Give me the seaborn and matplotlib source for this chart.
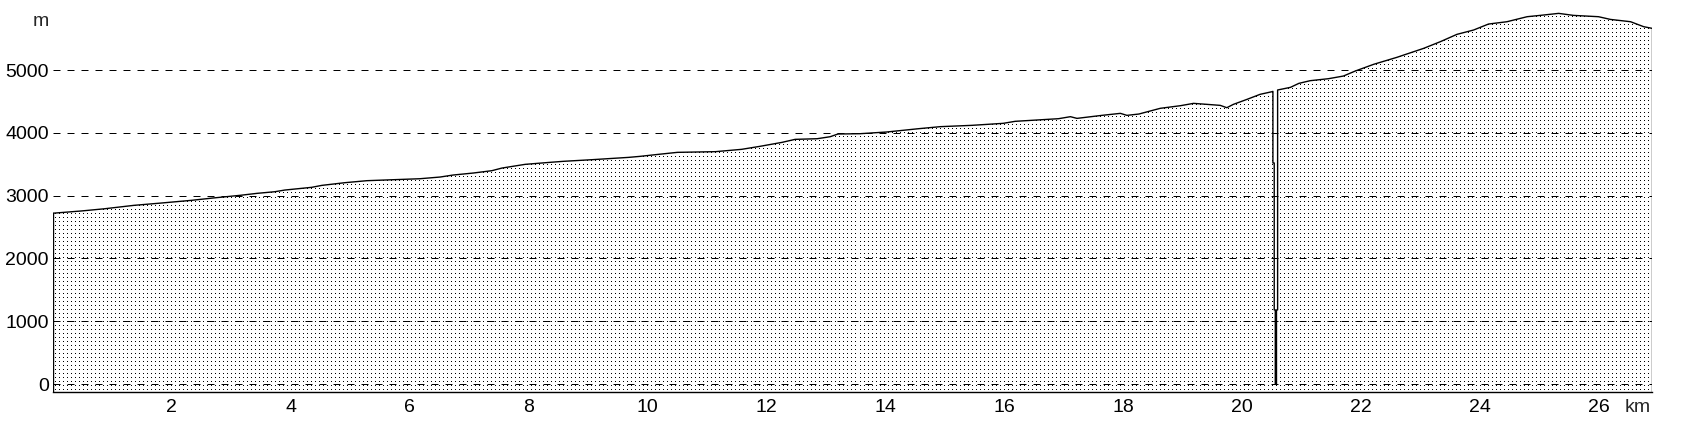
import numpy as np
import pandas as pd
import matplotlib
matplotlib.use("Agg")
import matplotlib.pyplot as plt
import seaborn as sns

# elevation profile (km, m)
km = [0.0, 0.47, 0.86, 1.36, 1.82, 2.33, 2.69, 3.15, 3.43, 3.73, 3.90, 4.35,
      4.52, 4.91, 5.28, 6.17, 6.51, 6.73, 7.07, 7.38, 7.55, 7.94, 8.36, 8.58,
      9.06, 9.68, 9.87, 10.18, 10.50, 11.14, 11.58, 11.89, 12.26, 12.48, 12.85,
      13.07, 13.20, 13.57, 14.02, 14.56, 14.92, 15.45, 15.98, 16.18, 16.91,
      17.11, 17.22, 17.64, 17.95, 18.06, 18.26, 18.45, 18.62, 18.96, 19.18,
      19.41, 19.63, 19.74, 19.85, 20.08, 20.30, 20.50,
      20.515, 20.515, 20.537, 20.537, 20.555, 20.555, 20.575, 20.575, 20.594,
      20.594, 20.81, 20.95, 21.14, 21.45, 21.70, 21.90, 22.21, 22.60, 23.05,
      23.33, 23.61, 23.89, 24.14, 24.45, 24.79, 25.01, 25.32, 25.57, 25.99,
      26.19, 26.53, 26.75, 26.89]
elev = [2720, 2755, 2790, 2845, 2882, 2925, 2962, 3005, 3036, 3062, 3089, 3132,
        3163, 3206, 3238, 3269, 3296, 3328, 3360, 3397, 3439, 3498, 3530, 3546,
        3572, 3609, 3625, 3657, 3689, 3700, 3737, 3785, 3848, 3896, 3906,
        3938, 3981, 3986, 4013, 4066, 4098, 4119, 4151, 4183, 4225,
        4257, 4230, 4278, 4310, 4278, 4299, 4347, 4390, 4432, 4469,
        4453, 4437, 4400, 4453, 4533, 4613, 4655,
        4660, 3520, 3520, 1180, 1180, 0, 0, 1180, 1180,
        4682, 4724, 4787, 4830, 4862, 4904, 4984, 5091, 5202, 5345,
        5451, 5568, 5637, 5732, 5769, 5849, 5870, 5902, 5870, 5849,
        5806, 5769, 5690, 5664]

y_ticks = [0, 1000, 2000, 3000, 4000, 5000]
x_ticks = [2, 4, 6, 8, 10, 12, 14, 16, 18, 20, 22, 24, 26]

df = pd.DataFrame({"km": km, "m": elev})

sns.set_style("white")
plt.rcParams["font.family"] = ["Liberation Sans", "DejaVu Sans"]

W, H = 1692, 444
fig = plt.figure(figsize=(W / 100, H / 100), dpi=100)
ax_l, ax_r, ax_b = 53, 1652, 392
ax = fig.add_axes([ax_l / W, (H - ax_b) / H, (ax_r - ax_l) / W, ax_b / H])
x_max = km[-1]
y_min, y_max = -127, 6115
ax.set_xlim(0, x_max)
ax.set_ylim(y_min, y_max)

# profile polygon closed down to the bottom
px = [0] + km + [x_max]
py = [y_min] + elev + [y_min]
poly = ax.fill(px, py, facecolor="white", edgecolor="none", zorder=1)[0]

# stipple texture clipped to the profile
aw, ah = ax_r - ax_l, ax_b
tex = np.ones((ah, aw))
tex[1::4, 2::4] = 0
img = ax.imshow(tex, cmap="gray", vmin=0, vmax=1, extent=(0, x_max, y_min, y_max),
                aspect="auto", interpolation="nearest", zorder=1.5)
img.set_clip_path(poly)

for v in y_ticks:
    ax.axhline(v, color="black", lw=0.72, ls=(0, (7, 7)), zorder=2)

sns.lineplot(data=df, x="km", y="m", sort=False, estimator=None,
             color="black", lw=1.0, ax=ax, zorder=3)
ax.plot([0, 0], [y_min, elev[0]], color="black", lw=1.0, zorder=3)
ax.plot([x_max, x_max], [y_min, elev[-1]], color="black", lw=1.0, zorder=3)

for s in ["top", "right", "left"]:
    ax.spines[s].set_visible(False)
ax.spines["bottom"].set_color("black")
ax.spines["bottom"].set_linewidth(1.0)

ax.set_xticks(x_ticks)
ax.set_yticks(y_ticks)
ax.tick_params(axis="both", direction="inout", length=6, width=0.8,
               colors="black", labelsize=14, pad=2)
ax.tick_params(axis="y", length=4, pad=1)
ax.set_xlabel("")
ax.set_ylabel("")

fig.text(41 / W, 1 - 22 / H, "m", ha="center", va="center", fontsize=14)
fig.text(1638 / W, 1 - 407 / H, "km", ha="center", va="center", fontsize=14)

fig.savefig("out.png", dpi=100, facecolor="white")
